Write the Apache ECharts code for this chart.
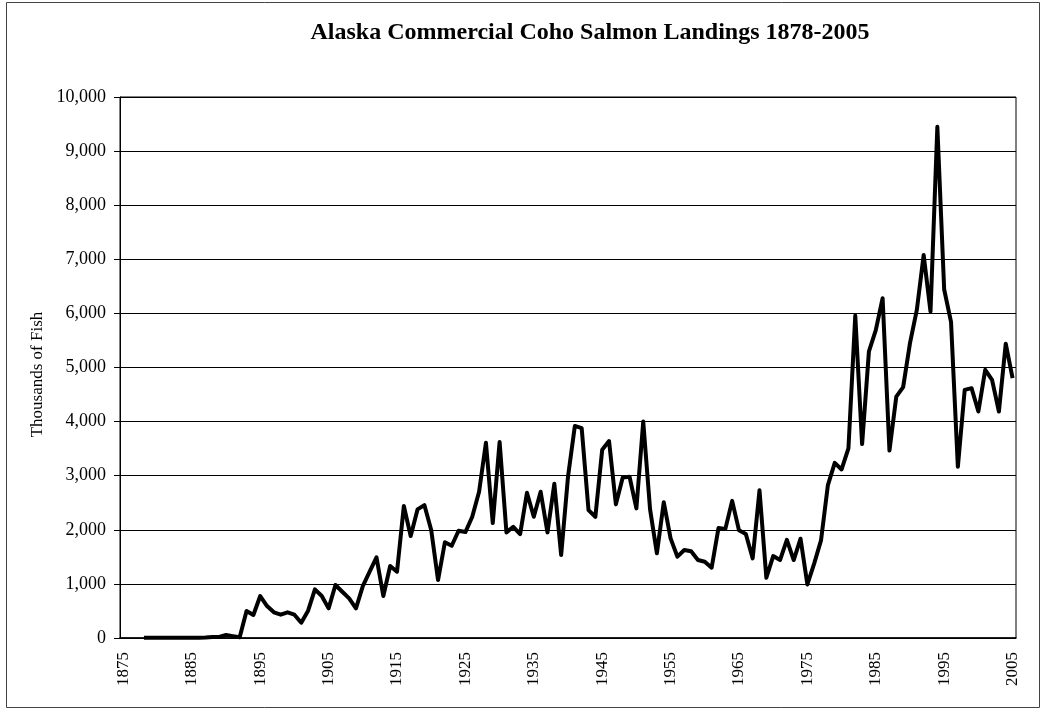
<!DOCTYPE html>
<html>
<head>
<meta charset="utf-8">
<script src="https://cdn.jsdelivr.net/npm/echarts@6/dist/echarts.min.js"></script>
<style>
html,body{margin:0;padding:0;background:#fff;}
#chart{width:1042px;height:710px;}
</style>
</head>
<body>
<div id="chart"></div>
<script>
// Categories: years 1875-2005
const years = [];
for (let y = 1875; y <= 2005; y++) years.push(String(y));

// Landings, thousands of fish (null = no data)
const landings = [
  null, null, null, 5, 5, 5, 5, 5, 5, 5,            // 1875-1884
  5, 5, 10, 20, 20, 55, 35, 15, 500, 425,           // 1885-1894
  776, 591, 475, 431, 475, 431, 283, 505, 900, 776, // 1895-1904
  548, 979, 855, 733, 548, 960, 1225, 1490, 776, 1330, // 1905-1914
  1225, 2439, 1884, 2377, 2457, 1995, 1071, 1770, 1705, 1982, // 1915-1924
  1958, 2241, 2703, 3610, 2125, 3625, 1952, 2056, 1921, 2685, // 1925-1934
  2241, 2703, 1952, 2850, 1533, 2980, 3920, 3880, 2365, 2241, // 1935-1944
  3480, 3640, 2470, 2968, 2980, 2396, 4000, 2377, 1565, 2510, // 1945-1954
  1842, 1503, 1626, 1602, 1441, 1410, 1299, 2032, 2013, 2535, // 1955-1964
  1990, 1921, 1472, 2730, 1114, 1515, 1441, 1815, 1441, 1835, // 1965-1974
  990, 1380, 1810, 2826, 3238, 3115, 3503, 5960, 3584, 5300, // 1975-1984
  5690, 6280, 3465, 4463, 4637, 5450, 6065, 7080, 6034, 9450, // 1985-1994
  6442, 5843, 3165, 4587, 4618, 4186, 4957, 4772, 4186, 5440, // 1995-2004
  4802                                                // 2005
];

const titleText = 'Alaska Commercial Coho Salmon Landings 1878-2005';
const yAxisTitle = 'Thousands of Fish';
const yMin = 0, yMax = 10000, yStep = 1000;
const xLabelEvery = 10;

function fmtThousands(v) {
  return String(v).replace(/\B(?=(\d{3})+(?!\d))/g, ',');
}

const chart = echarts.init(document.getElementById('chart'), null, {renderer: 'canvas'});
chart.setOption({
  animation: false,
  backgroundColor: '#fff',
  title: {
    text: titleText,
    left: 585,
    top: 16,
    textAlign: 'center',
    textStyle: {fontFamily: 'Liberation Serif', fontWeight: 'bold', fontSize: 24, color: '#000'}
  },
  graphic: [{
    type: 'rect',
    shape: {x: 6.5, y: 2.5, width: 1033, height: 705},
    style: {fill: 'none', stroke: '#444', lineWidth: 1},
    silent: true
  }],
  grid: {
    left: 120, right: 26, top: 97, bottom: 72,
    show: true, borderColor: '#000', borderWidth: 1,
    containLabel: false
  },
  xAxis: {
    type: 'category',
    data: years,
    boundaryGap: true,
    axisLine: {lineStyle: {color: '#000', width: 1.5}},
    axisTick: {interval: xLabelEvery - 1, length: 6, lineStyle: {color: '#000', width: 1}},
    axisLabel: {
      interval: xLabelEvery - 1, rotate: 90, margin: 14,
      fontFamily: 'Liberation Serif', fontSize: 17, color: '#000'
    },
    splitLine: {show: false}
  },
  yAxis: {
    type: 'value',
    min: yMin, max: yMax, interval: yStep,
    name: yAxisTitle,
    nameLocation: 'middle',
    nameGap: 74,
    nameTextStyle: {fontFamily: 'Liberation Serif', fontSize: 17, color: '#000', padding: [0, 14, 0, 0]},
    axisLine: {show: true, lineStyle: {color: '#000', width: 1}},
    axisTick: {show: true, length: 6, lineStyle: {color: '#000'}},
    axisLabel: {
      margin: 14, formatter: fmtThousands,
      fontFamily: 'Liberation Serif', fontSize: 18, color: '#000'
    },
    splitLine: {show: true, lineStyle: {color: '#000', width: 1}}
  },
  series: [{
    type: 'line',
    data: landings,
    showSymbol: false,
    symbol: 'none',
    connectNulls: false,
    lineStyle: {color: '#000', width: 4, join: 'round'},
    silent: true
  }]
});
</script>
</body>
</html>
